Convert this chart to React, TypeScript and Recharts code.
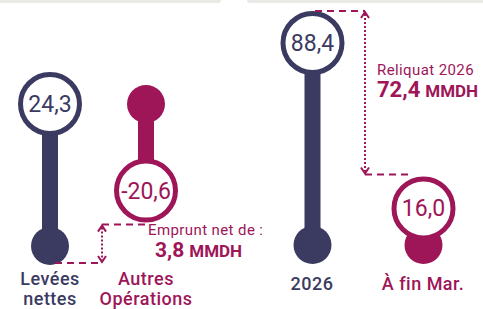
import React from 'react';
import { BarChart, Bar, XAxis, YAxis, ReferenceLine } from 'recharts';

const NAVY = '#3b3a61';
const PLUM = '#9e1558';
const FONT = 'Roboto, "Noto Sans", sans-serif';

// panneau gauche : levées nettes puis autres opérations (cascade)
const leftCategories = ['Levées nettes', 'Autres Opérations'];
const leftDeltas = [24.3, -20.6];
const leftLabels = ['24,3', '-20,6'];
const leftColors = [NAVY, PLUM];

// panneau droit : besoin 2026 et réalisé à fin mars
const rightCategories = ['2026', 'À fin Mar.'];
const rightValues = [88.4, 16.0];
const rightLabels = ['88,4', '16,0'];
const rightColors = [NAVY, PLUM];

const empruntNet = '3,8';
const reliquat = '72,4';

const STEM = 16;
const DOT_R = 19;
const RING_R = 29.5;
const RING_W = 5;

const leftData = leftCategories.map((name, i) => {
  const start = leftDeltas.slice(0, i).reduce((s, v) => s + v, 0);
  return { name, range: [start, start + leftDeltas[i]], label: leftLabels[i], color: leftColors[i] };
});

const rightData = rightCategories.map((name, i) => ({
  name,
  range: [0, rightValues[i]],
  label: rightLabels[i],
  color: rightColors[i],
}));

const Lollipop = (props: any) => {
  const { x, y, width, height, payload } = props;
  if (x == null || y == null) return null;
  const cx = x + width / 2;
  const top = Math.min(y, y + height);
  const bottom = Math.max(y, y + height);
  const up = payload.range[1] >= payload.range[0];
  const startY = up ? bottom : top;
  const endY = up ? top : bottom;
  const c = payload.color;
  return (
    <g>
      <rect x={cx - STEM / 2} y={top} width={STEM} height={bottom - top} fill={c} />
      <circle cx={cx} cy={startY} r={DOT_R} fill={c} />
      <circle cx={cx} cy={endY} r={RING_R} fill="#fff" stroke={c} strokeWidth={RING_W} />
      <text x={cx} y={endY + 8} textAnchor="middle" fontSize={23} fontWeight={400} fill={c} fontFamily={FONT}>
        {payload.label}
      </text>
    </g>
  );
};

const makeTick = (colors: string[], wrap: boolean, offset: number) => (props: any) => {
  const { x, y, payload, index } = props;
  const lines = wrap ? String(payload.value).split(' ') : [payload.value];
  return (
    <g>
      {lines.map((l: string, i: number) => (
        <text
          key={i}
          x={x}
          y={y + offset + i * 20}
          textAnchor="middle"
          fontSize={18}
          fontWeight={500}
          letterSpacing={0.5}
          fill={colors[index]}
          fontFamily={FONT}
        >
          {l}
        </text>
      ))}
    </g>
  );
};

const VArrow = ({ x, y1, y2 }: { x: number; y1: number; y2: number }) => (
  <g stroke={PLUM} strokeWidth={2} fill="none">
    <line x1={x} y1={y1 + 3} x2={x} y2={y2 - 3} strokeDasharray="2 2" />
    <polyline points={`${x - 4},${y1 + 7} ${x},${y1 + 1} ${x + 4},${y1 + 7}`} />
    <polyline points={`${x - 4},${y2 - 7} ${x},${y2 - 1} ${x + 4},${y2 - 7}`} />
  </g>
);

const EmpruntNote = (p: any) => {
  const { x1, y1, x2, y2 } = p;
  const xm = (x1 + x2) / 2 + 4;
  const yLow = y1 + DOT_R - 2;
  const yHigh = y2 + RING_R + RING_W / 2 + 2;
  return (
    <g fontFamily={FONT}>
      <line x1={x1 + 5} y1={yLow} x2={xm} y2={yLow} stroke={PLUM} strokeWidth={2} strokeDasharray="7 5" />
      <line x1={xm} y1={yHigh} x2={x2 - 1} y2={yHigh} stroke={PLUM} strokeWidth={2} strokeDasharray="7 5" />
      <VArrow x={xm} y1={yHigh} y2={yLow} />
      <text x={x2 + 2} y={yHigh + 10} fontSize={15} fill={PLUM} letterSpacing={0.4}>
        Emprunt net de :
      </text>
      <text x={x2 + 9} y={yHigh + 32} fill={PLUM} fontWeight={700}>
        <tspan fontSize={21}>{empruntNet}</tspan>
        <tspan fontSize={17} dx={5}>MMDH</tspan>
      </text>
    </g>
  );
};

const ReliquatNote = (p: any) => {
  const { x1, y1, x2, y2 } = p;
  const xm = (x1 + x2) / 2 - 2.5;
  const yA = y1 - RING_R - RING_W / 2;
  const yB = y2 - RING_R - RING_W / 2 - 2;
  return (
    <g fontFamily={FONT}>
      <line x1={x1 + 3} y1={yA} x2={xm} y2={yA} stroke={PLUM} strokeWidth={2} strokeDasharray="7 5" />
      <line x1={xm} y1={yB} x2={x2 - 10} y2={yB} stroke={PLUM} strokeWidth={2} strokeDasharray="7 5" />
      <VArrow x={xm} y1={yA} y2={yB} />
      <text x={xm + 12} y={yA + 64} fontSize={15} fill={PLUM} letterSpacing={0.4}>
        Reliquat 2026
      </text>
      <text x={xm + 12} y={yA + 86} fill={PLUM} fontWeight={700}>
        <tspan fontSize={22}>{reliquat}</tspan>
        <tspan fontSize={17} dx={5}>MMDH</tspan>
      </text>
    </g>
  );
};

export default function App() {
  const leftEnd = leftData[1].range[1];
  return (
    <div style={{ position: 'fixed', left: 0, top: 0, width: 483, height: 309, background: '#fff', overflow: 'hidden' }}>
      <div style={{ position: 'absolute', left: 0, top: 0, width: 221, height: 3, background: '#ebe9e6', borderBottomRightRadius: 6 }} />
      <div style={{ position: 'absolute', left: 247, top: 0, width: 236, height: 3, background: '#ebe9e6', borderBottomLeftRadius: 6 }} />

      <div style={{ position: 'absolute', left: 0, top: 0 }}>
        <BarChart width={483} height={309} data={leftData} margin={{ top: 104, right: 289, bottom: 23, left: 2 }}>
          <XAxis
            dataKey="name"
            axisLine={false}
            tickLine={false}
            tickSize={0}
            tickMargin={0}
            height={40}
            interval={0}
            tick={makeTick(leftColors, true, 39)}
          />
          <YAxis hide type="number" scale="sqrt" domain={[0, 24.3]} />
          <Bar dataKey="range" barSize={STEM} shape={<Lollipop />} isAnimationActive={false} />
          <ReferenceLine
            segment={[
              { x: leftCategories[0], y: 0 },
              { x: leftCategories[1], y: leftEnd },
            ]}
            shape={EmpruntNote}
          />
        </BarChart>
      </div>

      <div style={{ position: 'absolute', left: 0, top: 0 }}>
        <BarChart width={483} height={309} data={rightData} margin={{ top: 43, right: 4.5, bottom: 24, left: 256.5 }}>
          <XAxis
            dataKey="name"
            axisLine={false}
            tickLine={false}
            tickSize={0}
            tickMargin={0}
            height={40}
            interval={0}
            tick={makeTick(rightColors, false, 45)}
          />
          <YAxis hide type="number" domain={[0, 88.4]} />
          <Bar dataKey="range" barSize={STEM} shape={<Lollipop />} isAnimationActive={false} />
          <ReferenceLine
            segment={[
              { x: rightCategories[0], y: rightValues[0] },
              { x: rightCategories[1], y: rightValues[1] },
            ]}
            shape={ReliquatNote}
          />
        </BarChart>
      </div>
    </div>
  );
}
